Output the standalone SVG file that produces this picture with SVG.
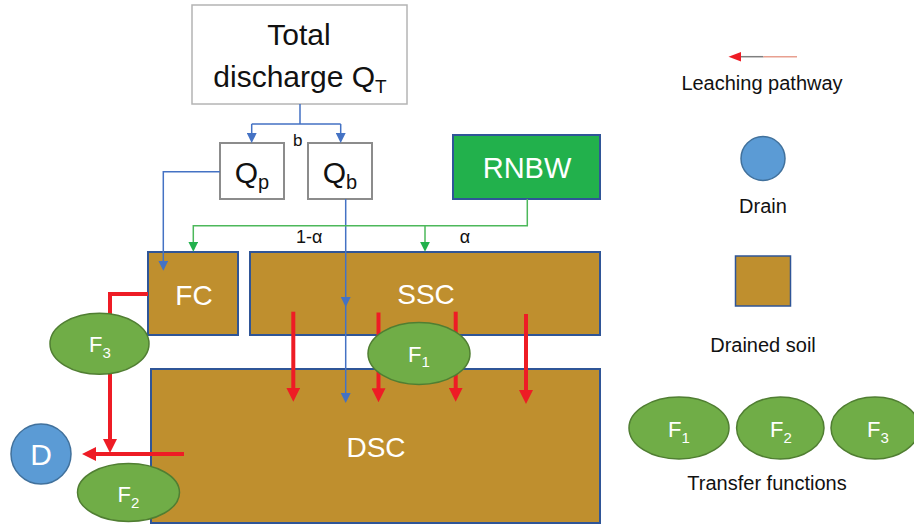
<svg xmlns="http://www.w3.org/2000/svg" width="914" height="524" viewBox="0 0 914 524">
<style>
text{font-family:"Liberation Sans",Arial,sans-serif;text-anchor:middle}
.box{fill:#fff;stroke:#8c8c8c;stroke-width:2}
.soil{fill:#BF8F2E;stroke:#2F5597;stroke-width:2}
.tf{fill:#70AD47;stroke:#507E32;stroke-width:1.5}
.drain{fill:#5B9BD5;stroke:#41719C;stroke-width:1.5}
.wt{fill:#fff}
.bk{fill:#111}
.blue{fill:none;stroke:#4472C4;stroke-width:1.5}
.green{fill:none;stroke:#4CB85A;stroke-width:1.5}
.red{fill:none;stroke:#EE1C25;stroke-width:4}
</style>
<defs>
<marker id="ab" markerUnits="userSpaceOnUse" markerWidth="10" markerHeight="10" refX="7" refY="5" orient="auto"><path d="M0,0L10,5L0,10z" fill="#4472C4"/></marker>
<marker id="ag" markerUnits="userSpaceOnUse" markerWidth="10" markerHeight="10" refX="7" refY="5" orient="auto"><path d="M0,0L10,5L0,10z" fill="#22B14C"/></marker>
<marker id="ar" markerUnits="userSpaceOnUse" markerWidth="14" markerHeight="14" refX="4" refY="7" orient="auto"><path d="M0,0L14,7L0,14z" fill="#EE1C25"/></marker>
<marker id="al" markerUnits="userSpaceOnUse" markerWidth="12" markerHeight="10" refX="2" refY="5" orient="auto"><path d="M0,0L12,5L0,10z" fill="#EE1C25"/></marker>
</defs>

<g id="total"><rect class="box" x="192" y="5" width="215" height="99" style="stroke:#b4b4b4;stroke-width:1.5"/>
<text class="bk" x="299" y="45" font-size="30">Total</text>
<text class="bk" x="300" y="87" font-size="30">discharge Q<tspan font-size="19" dy="6">T</tspan></text></g>

<g id="qp"><rect class="box" x="220" y="143" width="64" height="56"/>
<text class="bk" x="252" y="183" font-size="30">Q<tspan font-size="20" dy="6">p</tspan></text></g>

<g id="qb"><rect class="box" x="308" y="143" width="64" height="56"/>
<text class="bk" x="340" y="183" font-size="30">Q<tspan font-size="20" dy="6">b</tspan></text></g>

<g id="rnbw"><rect x="453" y="135" width="147" height="64" fill="#22B14C" stroke="#2F5597" stroke-width="2"/>
<text class="wt" x="527" y="178" font-size="29">RNBW</text></g>

<g id="fc"><rect class="soil" x="148" y="252" width="90" height="83"/>
<text class="wt" x="194" y="305" font-size="28">FC</text></g>

<g id="ssc"><rect class="soil" x="250" y="252" width="350" height="83"/>
<text class="wt" x="426" y="304" font-size="28">SSC</text></g>

<g id="dsc"><rect class="soil" x="151" y="369" width="449" height="154"/>
<text class="wt" x="376" y="457" font-size="28">DSC</text></g>

<g id="connectors">
<path class="blue" d="M300,104V124M251.7,124H340.7"/>
<path class="blue" d="M251.7,124V140" marker-end="url(#ab)"/>
<path class="blue" d="M340.7,124V140" marker-end="url(#ab)"/>
<path class="blue" d="M220,171.7H163.3V267.7" marker-end="url(#ab)"/>
<path class="blue" d="M345.7,199V304" marker-end="url(#ab)"/>
<path class="blue" d="M345.7,304V400" marker-end="url(#ab)"/>
<path class="green" d="M527.3,199V225.7H193.3V248.7" marker-end="url(#ag)"/>
<path class="green" d="M425,225.7V248.7" marker-end="url(#ag)"/>
<path class="red" d="M293.3,311.7V391.7" marker-end="url(#ar)"/>
<path class="red" d="M378.5,312.5V392.3" marker-end="url(#ar)"/>
<path class="red" d="M455.7,311.7V391.7" marker-end="url(#ar)"/>
<path class="red" d="M526,314V394" marker-end="url(#ar)"/>
<path class="red" d="M148,294H110V316"/>
<path class="red" d="M110,372V443" marker-end="url(#ar)"/>
<path class="red" d="M184,454H92" marker-end="url(#ar)"/>
<text class="bk" x="297.7" y="145.7" font-size="17">b</text>
<text class="bk" x="309.3" y="243.3" font-size="18">1-α</text>
<text class="bk" x="465" y="243.3" font-size="18">α</text>
</g>

<g id="f1"><ellipse class="tf" cx="419" cy="353.5" rx="51" ry="31"/>
<text class="wt" x="419" y="361.7" font-size="22">F<tspan font-size="15" dy="5.5">1</tspan></text></g>

<g id="f3"><ellipse class="tf" cx="99.5" cy="343.7" rx="49.5" ry="30.5"/>
<text class="wt" x="100" y="351.7" font-size="22">F<tspan font-size="15" dy="6">3</tspan></text></g>

<g id="f2"><ellipse class="tf" cx="128.5" cy="492.5" rx="51" ry="29"/>
<text class="wt" x="128.5" y="501.7" font-size="22">F<tspan font-size="15" dy="6">2</tspan></text></g>

<g id="d"><circle class="drain" cx="41" cy="454" r="30"/>
<text class="wt" x="41" y="465" font-size="30">D</text></g>

<g id="legend">
<path d="M740,56.7H763.5" stroke="#7f7f7f" stroke-width="1.5"/>
<path d="M763.5,56.7H797" stroke="#E8A090" stroke-width="1.5"/>
<path d="M741,52L728.5,56.7L741,61.4z" fill="#EE1C25"/>
<text class="bk" x="762" y="90" font-size="20">Leaching pathway</text>
<circle class="drain" cx="763" cy="158.5" r="22"/>
<text class="bk" x="763" y="213" font-size="20">Drain</text>
<rect x="735.5" y="256" width="55" height="50" fill="#BF8F2E" stroke="#2F5597" stroke-width="1.5"/>
<text class="bk" x="763" y="352" font-size="20">Drained soil</text>
<ellipse class="tf" cx="679" cy="428" rx="50" ry="31"/>
<text class="wt" x="679" y="437" font-size="22">F<tspan font-size="15" dy="6">1</tspan></text>
<ellipse class="tf" cx="780.3" cy="428" rx="43.7" ry="31"/>
<text class="wt" x="781" y="437" font-size="22">F<tspan font-size="15" dy="6">2</tspan></text>
<ellipse class="tf" cx="875" cy="428" rx="44" ry="31"/>
<text class="wt" x="878" y="437" font-size="22">F<tspan font-size="15" dy="6">3</tspan></text>
<text class="bk" x="767" y="490" font-size="20">Transfer functions</text>
</g>
</svg>
